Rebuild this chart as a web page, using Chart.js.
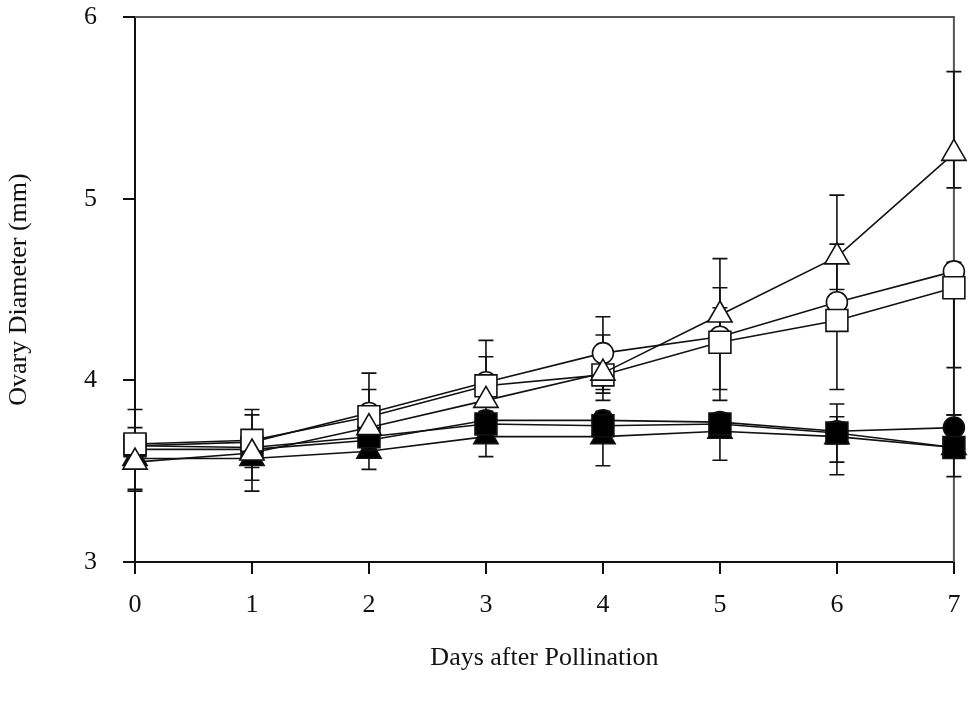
<!DOCTYPE html>
<html>
<head>
<meta charset="utf-8">
<title>Ovary Diameter</title>
<script src="https://cdn.jsdelivr.net/npm/chart.js@4"></script>
<style>
  body { margin: 0; background: #fff; }
  #wrap { width: 971px; height: 702px; }
</style>
</head>
<body>
<div id="wrap"><canvas id="ovaryChart"></canvas></div>
<script>
const days = [0, 1, 2, 3, 4, 5, 6, 7];
const yTicks = [3, 4, 5, 6];

// means (mm)
const openCircle   = [3.64, 3.66, 3.82, 3.99, 4.15, 4.24, 4.43, 4.60];
const openSquare   = [3.65, 3.67, 3.80, 3.97, 4.03, 4.21, 4.33, 4.51];
const openTriangle = [3.55, 3.60, 3.74, 3.89, 4.04, 4.36, 4.68, 5.25];
const fillCircle   = [3.62, 3.62, 3.67, 3.78, 3.78, 3.77, 3.72, 3.74];
const fillSquare   = [3.64, 3.63, 3.69, 3.76, 3.75, 3.76, 3.71, 3.63];
const fillTriangle = [3.57, 3.57, 3.61, 3.69, 3.69, 3.72, 3.69, 3.63];

// error bar ends (low / high)
const openCircleLo   = [3.60, 3.60, 3.72, 3.90, 3.95, 3.95, 4.35, 4.07];
const openCircleHi   = [3.68, 3.72, 4.04, 4.22, 4.35, 4.51, 4.50, 4.65];
const openSquareLo   = [3.40, 3.45, 3.72, 3.88, 3.89, 3.89, 3.95, 3.81];
const openSquareHi   = [3.84, 3.84, 3.95, 4.13, 4.17, 4.40, 4.75, 4.55];
const openTriangleLo = [3.39, 3.39, 3.68, 3.82, 3.93, 4.21, 4.34, 5.06];
const openTriangleHi = [3.74, 3.81, 3.80, 3.95, 4.25, 4.67, 5.02, 5.70];
const fillCircleLo   = [3.57, 3.57, 3.62, 3.73, 3.73, 3.72, 3.67, 3.47];
const fillCircleHi   = [3.67, 3.67, 3.72, 3.83, 3.83, 3.82, 3.77, 3.81];
const fillSquareLo   = [3.59, 3.58, 3.64, 3.71, 3.70, 3.71, 3.55, 3.58];
const fillSquareHi   = [3.69, 3.68, 3.74, 3.81, 3.80, 3.81, 3.87, 3.68];
const fillTriangleLo = [3.52, 3.52, 3.51, 3.58, 3.53, 3.56, 3.48, 3.58];
const fillTriangleHi = [3.62, 3.62, 3.69, 3.78, 3.80, 3.80, 3.80, 3.68];

const FONT = "'Liberation Serif', 'Times New Roman', serif";

function toPoints(vals) {
  return days.map((d, i) => ({ x: d, y: vals[i] }));
}

function serie(vals, lo, hi, style, open, radius) {
  return {
    data: toPoints(vals),
    errLo: lo,
    errHi: hi,
    clip: false,
    borderColor: "#111",
    borderWidth: 1.6,
    pointStyle: style,
    pointRadius: radius,
    pointBorderWidth: 1.6,
    pointBorderColor: "#111",
    pointBackgroundColor: open ? "#fff" : "#000",
    fill: false,
    tension: 0
  };
}

// error bars + top/right frame, drawn under the series
const errorBars = {
  id: "errorBars",
  beforeDatasetsDraw(chart) {
    const ctx = chart.ctx;
    const xs = chart.scales.x, ys = chart.scales.y;
    const a = chart.chartArea;
    ctx.save();
    ctx.strokeStyle = "#555";
    ctx.lineWidth = 2;
    ctx.beginPath();
    ctx.moveTo(a.left, a.top);
    ctx.lineTo(a.right, a.top);
    ctx.lineTo(a.right, a.bottom);
    ctx.stroke();

    ctx.strokeStyle = "#111";
    ctx.lineWidth = 1.6;
    chart.data.datasets.forEach(ds => {
      days.forEach((d, i) => {
        const px = xs.getPixelForValue(d);
        const y1 = ys.getPixelForValue(ds.errLo[i]);
        const y2 = ys.getPixelForValue(ds.errHi[i]);
        ctx.beginPath();
        ctx.moveTo(px, y1);
        ctx.lineTo(px, y2);
        ctx.moveTo(px - 7.5, y1);
        ctx.lineTo(px + 7.5, y1);
        ctx.moveTo(px - 7.5, y2);
        ctx.lineTo(px + 7.5, y2);
        ctx.stroke();
      });
    });
    ctx.restore();
  }
};

const ctx = document.getElementById("ovaryChart").getContext("2d");
new Chart(ctx, {
  type: "line",
  data: {
    // first dataset is drawn on top
    datasets: [
      serie(openTriangle, openTriangleLo, openTriangleHi, "triangle", true, 14),
      serie(openSquare, openSquareLo, openSquareHi, "rect", true, 15.5),
      serie(openCircle, openCircleLo, openCircleHi, "circle", true, 10.5),
      serie(fillSquare, fillSquareLo, fillSquareHi, "rect", false, 15.5),
      serie(fillCircle, fillCircleLo, fillCircleHi, "circle", false, 10.5),
      serie(fillTriangle, fillTriangleLo, fillTriangleHi, "triangle", false, 14)
    ]
  },
  options: {
    responsive: true,
    maintainAspectRatio: false,
    animation: false,
    layout: { padding: { top: 15, right: 16, left: 0, bottom: 0 } },
    plugins: { legend: { display: false }, tooltip: { enabled: false } },
    scales: {
      x: {
        type: "linear",
        min: 0,
        max: 7,
        afterFit: s => {
          s.height = 140;
          s.paddingLeft = 0;
          s.paddingRight = 0;
        },
        afterBuildTicks: s => { s.ticks = days.map(v => ({ value: v })); },
        border: { color: "#111", width: 2 },
        grid: { drawOnChartArea: false, drawTicks: true, tickLength: 12, color: "#111", lineWidth: 2 },
        ticks: { color: "#111", padding: 16, font: { family: FONT, size: 26 } },
        title: {
          display: true,
          text: "Days after Pollination",
          color: "#111",
          font: { family: FONT, size: 26 },
          padding: { top: 0, bottom: 28 }
        }
      },
      y: {
        min: 3,
        max: 6,
        afterFit: s => {
          s.width = 135;
          s.paddingTop = 0;
          s.paddingBottom = 0;
        },
        afterBuildTicks: s => { s.ticks = yTicks.map(v => ({ value: v })); },
        border: { color: "#111", width: 2 },
        grid: { drawOnChartArea: false, drawTicks: true, tickLength: 12, color: "#111", lineWidth: 2 },
        ticks: { color: "#111", padding: 26, font: { family: FONT, size: 26 } },
        title: {
          display: true,
          text: "Ovary Diameter (mm)",
          color: "#111",
          font: { family: FONT, size: 26 },
          padding: { top: 4, bottom: 0 }
        }
      }
    }
  },
  plugins: [errorBars]
});
</script>
</body>
</html>
